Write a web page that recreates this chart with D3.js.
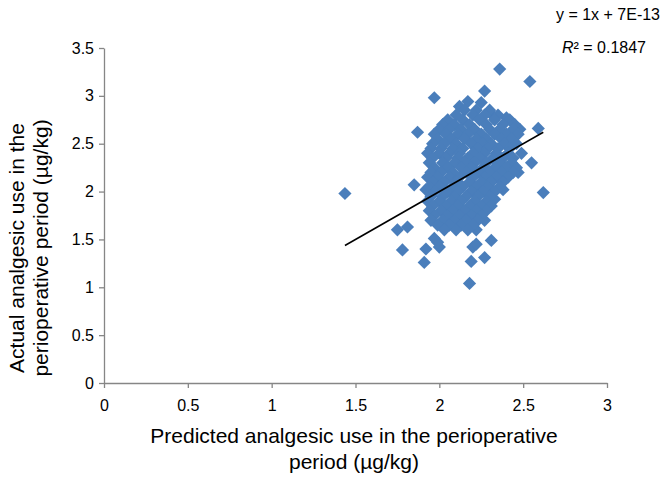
<!DOCTYPE html>
<html>
<head>
<meta charset="utf-8">
<script src="https://cdn.jsdelivr.net/npm/d3@7"></script>
<style>
  html, body { margin: 0; padding: 0; background: #fff; }
  svg { display: block; font-family: "Liberation Sans", Arial, sans-serif; }
</style>
</head>
<body>
<svg id="chart" width="666" height="478"></svg>
<script>
// ---- data ----
const xTicks = [0, 0.5, 1, 1.5, 2, 2.5, 3];
const yTicks = [0, 0.5, 1, 1.5, 2, 2.5, 3, 3.5];
const xTitle = ["Predicted analgesic use in the perioperative", "period (µg/kg)"];
const yTitle = ["Actual analgesic use in the", "perioperative period (µg/kg)"];
const equationText = "y = 1x + 7E-13";
const r2Value = "0.1847";
const trendSlope = 1;
const trendIntercept = 7e-13;

// predicted (x), actual (y) pairs - outliers
const outlierX = [1.437, 2.36, 2.54, 1.97, 2.27, 1.87, 2.59, 2.62, 1.75, 1.81, 1.78, 1.91, 1.92, 2.00, 2.18, 2.19, 2.20, 2.22, 2.27, 2.31, 2.22, 2.27, 1.97, 1.99, 1.85, 1.92, 2.55, 2.47, 2.48, 2.38, 2.33, 2.32, 2.12, 2.17, 2.25, 2.40];
const outlierY = [1.98, 3.28, 3.15, 2.98, 3.05, 2.62, 2.66, 1.99, 1.60, 1.63, 1.39, 1.26, 1.40, 1.42, 1.04, 1.27, 1.42, 1.45, 1.31, 1.49, 1.60, 1.70, 1.51, 1.47, 2.07, 2.02, 2.30, 2.20, 2.65, 2.02, 1.92, 2.79, 2.89, 2.94, 2.93, 2.77];

// dense core: rows of actual values with the predicted values in each row
const coreRowY = [2.85, 2.80, 2.75, 2.70, 2.65, 2.60, 2.55, 2.50, 2.45, 2.40, 2.35, 2.30, 2.25, 2.20, 2.15, 2.10, 2.05, 2.00, 1.95, 1.90, 1.85, 1.80, 1.75, 1.70, 1.65, 1.60];
const coreRowX = [
  [2.15, 2.22, 2.30],
  [2.10, 2.20, 2.27, 2.35],
  [2.05, 2.14, 2.24, 2.33, 2.42],
  [2.02, 2.09, 2.18, 2.28, 2.38, 2.45],
  [2.00, 2.06, 2.13, 2.21, 2.30, 2.36, 2.44],
  [1.97, 2.04, 2.11, 2.17, 2.25, 2.33, 2.40, 2.47],
  [1.99, 2.07, 2.15, 2.22, 2.28, 2.37, 2.43],
  [1.96, 2.03, 2.10, 2.19, 2.26, 2.31, 2.39, 2.46],
  [1.95, 2.01, 2.08, 2.14, 2.23, 2.29, 2.35, 2.42],
  [1.93, 2.00, 2.06, 2.12, 2.20, 2.27, 2.34, 2.41, 2.49],
  [1.96, 2.04, 2.11, 2.17, 2.24, 2.32, 2.38, 2.44],
  [1.94, 2.02, 2.09, 2.15, 2.21, 2.28, 2.36, 2.43],
  [1.97, 2.05, 2.13, 2.19, 2.26, 2.33, 2.40, 2.46],
  [1.95, 2.01, 2.08, 2.16, 2.23, 2.30, 2.37, 2.44],
  [1.93, 1.99, 2.06, 2.12, 2.20, 2.27, 2.34, 2.41],
  [1.96, 2.03, 2.10, 2.18, 2.25, 2.31, 2.38],
  [1.94, 2.00, 2.08, 2.14, 2.22, 2.29, 2.36],
  [1.97, 2.05, 2.11, 2.19, 2.26, 2.33],
  [1.95, 2.02, 2.09, 2.16, 2.23, 2.30],
  [1.93, 2.00, 2.07, 2.13, 2.21, 2.28],
  [1.96, 2.04, 2.11, 2.18, 2.25, 2.31],
  [1.94, 2.01, 2.08, 2.15, 2.22, 2.28],
  [1.97, 2.05, 2.12, 2.19, 2.25],
  [1.95, 2.02, 2.09, 2.16, 2.23],
  [1.99, 2.06, 2.13, 2.20],
  [2.03, 2.10, 2.17]
];

// ---- build point table ----
const points = [];
outlierX.forEach((x, i) => points.push({x, y: outlierY[i]}));
coreRowY.forEach((y, r) => coreRowX[r].forEach(x => points.push({x, y})));

// ---- layout ----
const svg = d3.select("#chart");
const x = d3.scaleLinear().domain([0, 3]).range([104, 607]);
const y = d3.scaleLinear().domain([0, 3.5]).range([383, 48]);
const axisColor = "#868686";
const fmt = d3.format("~g");

// x axis
const gx = svg.append("g").attr("transform", `translate(0,${y(0)})`)
  .call(d3.axisBottom(x).tickValues(xTicks).tickFormat(fmt).tickSize(5).tickSizeOuter(0).tickPadding(12));
// y axis
const gy = svg.append("g").attr("transform", `translate(${x(0)},0)`)
  .call(d3.axisLeft(y).tickValues(yTicks).tickFormat(fmt).tickSize(5).tickSizeOuter(0).tickPadding(5));
[gx, gy].forEach(g => {
  g.select(".domain").attr("stroke", axisColor).attr("stroke-width", 1.3);
  g.selectAll(".tick line").attr("stroke", axisColor).attr("stroke-width", 1.3);
  g.selectAll(".tick text").attr("fill", "#000").style("font-size", "16px")
    .style("font-family", "'Liberation Sans', Arial, sans-serif");
});

// diamond symbol (square rotated 45deg)
const diamond = {
  draw(ctx, size) {
    const r = Math.sqrt(size / 2);
    ctx.moveTo(0, -r); ctx.lineTo(r, 0); ctx.lineTo(0, r); ctx.lineTo(-r, 0); ctx.closePath();
  }
};
const sym = d3.symbol().type(diamond).size(2 * 6.6 * 6.6);

svg.append("g").selectAll("path").data(points).join("path")
  .attr("d", sym)
  .attr("transform", d => `translate(${x(d.x)},${y(d.y)})`)
  .attr("fill", "#4A7EBB");

// trend line
const xExt = d3.extent(points, d => d.x);
svg.append("line")
  .attr("x1", x(xExt[0])).attr("y1", y(trendSlope * xExt[0] + trendIntercept))
  .attr("x2", x(xExt[1])).attr("y2", y(trendSlope * xExt[1] + trendIntercept))
  .attr("stroke", "#000").attr("stroke-width", 1.6);

// equation labels
svg.append("text").attr("x", 660).attr("y", 20).attr("text-anchor", "end")
  .style("font-size", "16px").text(equationText);
const r2 = svg.append("text").attr("x", 646).attr("y", 53).attr("text-anchor", "end").style("font-size", "16px");
r2.append("tspan").style("font-style", "italic").text("R");
r2.append("tspan").text("² = " + r2Value);

// x title
xTitle.forEach((t, i) => {
  svg.append("text").attr("x", 354).attr("y", 443 + i * 26).attr("text-anchor", "middle")
    .style("font-size", "21px").text(t);
});
// y title
yTitle.forEach((t, i) => {
  svg.append("text").attr("transform", `translate(${24 + i * 24},${248}) rotate(-90)`)
    .attr("text-anchor", "middle").style("font-size", "21px").text(t);
});
</script>
</body>
</html>
